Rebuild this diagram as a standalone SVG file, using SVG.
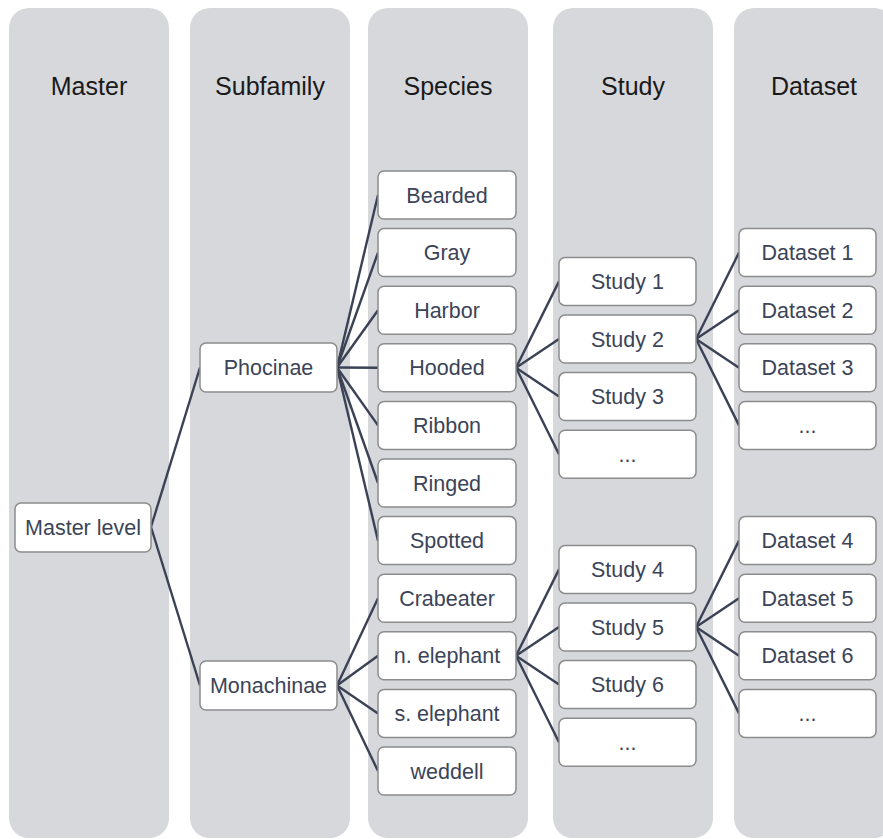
<svg xmlns="http://www.w3.org/2000/svg" width="883" height="839" viewBox="0 0 883 839">
<style>
.col{fill:#d7d8dc}
.hdr{font-family:"Liberation Sans",Arial,sans-serif;font-size:25px;fill:#1a1a1a;text-anchor:middle}
.box{fill:#ffffff;stroke:#8c8c8c;stroke-width:1.5}
.lbl{font-family:"Liberation Sans",Arial,sans-serif;font-size:21.5px;fill:#3b4458;text-anchor:middle}
.ln{stroke:#3b4256;stroke-width:2.4;fill:none}
</style>
<rect width="883" height="839" fill="#ffffff"/>
<g id="columns">
<rect class="col" x="9" y="8" width="160" height="830" rx="20"/>
<rect class="col" x="190" y="8" width="160" height="830" rx="20"/>
<rect class="col" x="368" y="8" width="160" height="830" rx="20"/>
<rect class="col" x="553" y="8" width="160" height="830" rx="20"/>
<rect class="col" x="734" y="8" width="160" height="830" rx="20"/>
<text class="hdr" x="89" y="95">Master</text>
<text class="hdr" x="270" y="95">Subfamily</text>
<text class="hdr" x="448" y="95">Species</text>
<text class="hdr" x="633" y="95">Study</text>
<text class="hdr" x="814" y="95">Dataset</text>
</g>
<g id="connectors">
<line class="ln" x1="151" y1="527" x2="200" y2="367.5"/>
<line class="ln" x1="151" y1="527" x2="200" y2="685.5"/>
<line class="ln" x1="337" y1="367.5" x2="378" y2="195"/>
<line class="ln" x1="337" y1="367.5" x2="378" y2="252.6"/>
<line class="ln" x1="337" y1="367.5" x2="378" y2="310.2"/>
<line class="ln" x1="337" y1="367.5" x2="378" y2="367.8"/>
<line class="ln" x1="337" y1="367.5" x2="378" y2="425.4"/>
<line class="ln" x1="337" y1="367.5" x2="378" y2="483"/>
<line class="ln" x1="337" y1="367.5" x2="378" y2="540.6"/>
<line class="ln" x1="337" y1="685.5" x2="378" y2="598.2"/>
<line class="ln" x1="337" y1="685.5" x2="378" y2="655.8"/>
<line class="ln" x1="337" y1="685.5" x2="378" y2="713.4"/>
<line class="ln" x1="337" y1="685.5" x2="378" y2="771"/>
<line class="ln" x1="516" y1="367.8" x2="559" y2="281.4"/>
<line class="ln" x1="516" y1="367.8" x2="559" y2="339"/>
<line class="ln" x1="516" y1="367.8" x2="559" y2="396.6"/>
<line class="ln" x1="516" y1="367.8" x2="559" y2="454.2"/>
<line class="ln" x1="516" y1="655.8" x2="559" y2="569.4"/>
<line class="ln" x1="516" y1="655.8" x2="559" y2="627"/>
<line class="ln" x1="516" y1="655.8" x2="559" y2="684.6"/>
<line class="ln" x1="516" y1="655.8" x2="559" y2="742.2"/>
<line class="ln" x1="696" y1="339" x2="739" y2="252.6"/>
<line class="ln" x1="696" y1="339" x2="739" y2="310.2"/>
<line class="ln" x1="696" y1="339" x2="739" y2="367.8"/>
<line class="ln" x1="696" y1="339" x2="739" y2="425.4"/>
<line class="ln" x1="696" y1="627" x2="739" y2="540.6"/>
<line class="ln" x1="696" y1="627" x2="739" y2="598.2"/>
<line class="ln" x1="696" y1="627" x2="739" y2="655.8"/>
<line class="ln" x1="696" y1="627" x2="739" y2="713.4"/>
</g>
<g id="master-level"><rect class="box" x="15" y="503" width="136" height="49" rx="6"/><text class="lbl" x="83" y="535">Master level</text></g>
<g id="phocinae"><rect class="box" x="200" y="343" width="137" height="49" rx="6"/><text class="lbl" x="268.5" y="375">Phocinae</text></g>
<g id="monachinae"><rect class="box" x="200" y="661" width="137" height="49" rx="6"/><text class="lbl" x="268.5" y="693">Monachinae</text></g>
<g id="bearded"><rect class="box" x="378" y="171" width="138" height="48" rx="6"/><text class="lbl" x="447" y="202.5">Bearded</text></g>
<g id="gray"><rect class="box" x="378" y="228.6" width="138" height="48" rx="6"/><text class="lbl" x="447" y="260.1">Gray</text></g>
<g id="harbor"><rect class="box" x="378" y="286.2" width="138" height="48" rx="6"/><text class="lbl" x="447" y="317.7">Harbor</text></g>
<g id="hooded"><rect class="box" x="378" y="343.8" width="138" height="48" rx="6"/><text class="lbl" x="447" y="375.3">Hooded</text></g>
<g id="ribbon"><rect class="box" x="378" y="401.4" width="138" height="48" rx="6"/><text class="lbl" x="447" y="432.9">Ribbon</text></g>
<g id="ringed"><rect class="box" x="378" y="459" width="138" height="48" rx="6"/><text class="lbl" x="447" y="490.5">Ringed</text></g>
<g id="spotted"><rect class="box" x="378" y="516.6" width="138" height="48" rx="6"/><text class="lbl" x="447" y="548.1">Spotted</text></g>
<g id="crabeater"><rect class="box" x="378" y="574.2" width="138" height="48" rx="6"/><text class="lbl" x="447" y="605.7">Crabeater</text></g>
<g id="n-elephant"><rect class="box" x="378" y="631.8" width="138" height="48" rx="6"/><text class="lbl" x="447" y="663.3">n. elephant</text></g>
<g id="s-elephant"><rect class="box" x="378" y="689.4" width="138" height="48" rx="6"/><text class="lbl" x="447" y="720.9">s. elephant</text></g>
<g id="weddell"><rect class="box" x="378" y="747" width="138" height="48" rx="6"/><text class="lbl" x="447" y="778.5">weddell</text></g>
<g id="study1"><rect class="box" x="559" y="257.4" width="137" height="48" rx="6"/><text class="lbl" x="627.5" y="288.9">Study 1</text></g>
<g id="study2"><rect class="box" x="559" y="315" width="137" height="48" rx="6"/><text class="lbl" x="627.5" y="346.5">Study 2</text></g>
<g id="study3"><rect class="box" x="559" y="372.6" width="137" height="48" rx="6"/><text class="lbl" x="627.5" y="404.1">Study 3</text></g>
<g id="study-more1"><rect class="box" x="559" y="430.2" width="137" height="48" rx="6"/><text class="lbl" x="627.5" y="461.7">...</text></g>
<g id="study4"><rect class="box" x="559" y="545.4" width="137" height="48" rx="6"/><text class="lbl" x="627.5" y="576.9">Study 4</text></g>
<g id="study5"><rect class="box" x="559" y="603" width="137" height="48" rx="6"/><text class="lbl" x="627.5" y="634.5">Study 5</text></g>
<g id="study6"><rect class="box" x="559" y="660.6" width="137" height="48" rx="6"/><text class="lbl" x="627.5" y="692.1">Study 6</text></g>
<g id="study-more2"><rect class="box" x="559" y="718.2" width="137" height="48" rx="6"/><text class="lbl" x="627.5" y="749.7">...</text></g>
<g id="dataset1"><rect class="box" x="739" y="228.6" width="137" height="48" rx="6"/><text class="lbl" x="807.5" y="260.1">Dataset 1</text></g>
<g id="dataset2"><rect class="box" x="739" y="286.2" width="137" height="48" rx="6"/><text class="lbl" x="807.5" y="317.7">Dataset 2</text></g>
<g id="dataset3"><rect class="box" x="739" y="343.8" width="137" height="48" rx="6"/><text class="lbl" x="807.5" y="375.3">Dataset 3</text></g>
<g id="dataset-more1"><rect class="box" x="739" y="401.4" width="137" height="48" rx="6"/><text class="lbl" x="807.5" y="432.9">...</text></g>
<g id="dataset4"><rect class="box" x="739" y="516.6" width="137" height="48" rx="6"/><text class="lbl" x="807.5" y="548.1">Dataset 4</text></g>
<g id="dataset5"><rect class="box" x="739" y="574.2" width="137" height="48" rx="6"/><text class="lbl" x="807.5" y="605.7">Dataset 5</text></g>
<g id="dataset6"><rect class="box" x="739" y="631.8" width="137" height="48" rx="6"/><text class="lbl" x="807.5" y="663.3">Dataset 6</text></g>
<g id="dataset-more2"><rect class="box" x="739" y="689.4" width="137" height="48" rx="6"/><text class="lbl" x="807.5" y="720.9">...</text></g>
</svg>
